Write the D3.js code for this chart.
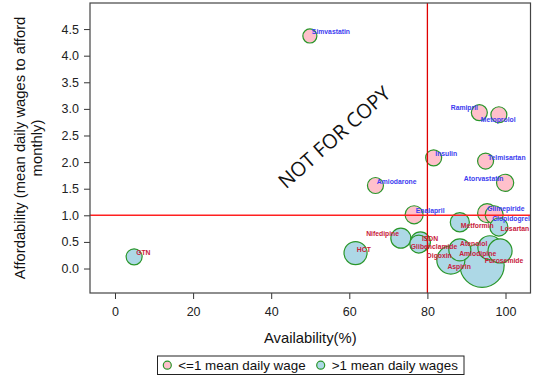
<!DOCTYPE html>
<html>
<head>
<meta charset="utf-8">
<script src="https://cdn.jsdelivr.net/npm/d3@7"></script>
<style>
  html, body { margin: 0; padding: 0; background: #fff; }
  svg { display: block; }
</style>
</head>
<body>
<svg id="chart" width="540" height="383"></svg>
<script>
// ---- data ----
const drugs = ["Simvastatin","Ramipril","Metoprolol","Insulin","Telmisartan","Atorvastatin","Amiodarone","Enalapril","Glimepiride","Clopidogrel",
               "GTN","HCT","Nifedipine","ISDN","Glibenclamide","Metformin","Losartan","Atenolol","Digoxin","Aspirin","Amlodipine","Furosemide"];
const availability = [49.9,93.3,98.3,81.6,94.9,99.9,66.7,76.6,95.3,97.1,
                      4.9,61.6,73.2,78.2,77.8,88.3,98.3,88.3,86.0,94.0,96.0,98.6];
const affordability = [4.37,2.93,2.89,2.08,2.02,1.61,1.56,1.01,1.04,1.01,
                       0.22,0.29,0.57,0.50,0.46,0.87,0.78,0.35,0.16,0.06,0.39,0.33];
const group = ["le1","le1","le1","le1","le1","le1","le1","le1","le1","le1",
               "gt1","gt1","gt1","gt1","gt1","gt1","gt1","gt1","gt1","gt1","gt1","gt1"];
const bubbleSize = [1.0,1.3,1.3,1.3,1.3,1.5,1.3,1.65,1.85,1.65,
                    1.3,2.7,2.04,2.04,1.65,1.85,1.65,2.47,4.0,9.9,2.94,2.94];
const xTicks = [0,20,40,60,80,100];
const yTicks = [0,0.5,1,1.5,2,2.5,3,3.5,4,4.5];
const legendLabels = ["<=1 mean daily wage", ">1 mean daily wages"];
const refX = 80, refY = 1;

// label offsets (px) relative to bubble centre
const labelDx = [2,-28.6,-18,1.6,2.3,-41.3,1.4,1.7,0,-2,
                 2,1.3,-34.7,1.5,-8,1,1.7,0.3,-24,-34.7,-30.7,-15.3];
const labelDy = [-4,-4.7,4.6,-4,-4,-4,-4,-4.3,-4.6,3.7,
                 -4.7,-3.3,-4.3,-3.7,2,3.7,1.7,-6.7,-5,1.2,6,10];

const points = drugs.map((d,i)=>({name:d, x:availability[i], y:affordability[i], g:group[i], s:bubbleSize[i], dx:labelDx[i], dy:labelDy[i]}));

// ---- layout ----
const svg = d3.select("#chart");
const L = 90, R = 530.5, T = 3, B = 293;
const x = d3.scaleLinear().domain([-6.4,106.4]).range([L,R]);
const y = d3.scaleLinear().domain([-0.46,4.99]).range([B,T]);
const r = d3.scaleSqrt().domain([0,10]).range([0,22.2]);

const fillC = {le1:"#ffc0cb", gt1:"#add8e6"};
const labelC = {le1:"#3c3cf0", gt1:"#c8203c"};
const strokeC = "#2a962a";
const font = "Arial, 'Liberation Sans', Helvetica, sans-serif";

// axes
const xAxis = svg.append("g").attr("transform",`translate(0,${B})`)
  .call(d3.axisBottom(x).tickValues(xTicks).tickSize(6).tickPadding(8).tickFormat(d3.format("d")));
const yAxis = svg.append("g").attr("transform",`translate(${L},0)`)
  .call(d3.axisLeft(y).tickValues(yTicks).tickSize(6).tickPadding(5).tickFormat(d3.format(".1f")));
[xAxis,yAxis].forEach(a=>{
  a.select(".domain").remove();
  a.selectAll("line").attr("stroke","#333");
  a.selectAll("text").attr("font-family",font).attr("font-size","12.5px").attr("fill","#222");
});

// watermark
svg.append("text").attr("transform","translate(334,137) rotate(-41.5)")
  .attr("text-anchor","middle").attr("dominant-baseline","central")
  .attr("font-family","'Open Sans', sans-serif").attr("font-size","20px").attr("fill","#111")
  .text("NOT FOR COPY");

// bubbles
const sorted = points.slice().sort((a,b)=>b.s-a.s);
svg.append("g").selectAll("circle").data(sorted).join("circle")
  .attr("cx",d=>x(d.x)).attr("cy",d=>y(d.y)).attr("r",d=>r(d.s))
  .attr("fill",d=>fillC[d.g]).attr("stroke",strokeC).attr("stroke-width",1.2);

// reference lines (drawn over bubbles)
svg.append("line").attr("x1",x(refX)).attr("x2",x(refX)).attr("y1",T).attr("y2",B)
  .attr("stroke","#e00000").attr("stroke-width",1.3);
svg.append("line").attr("x1",L).attr("x2",R).attr("y1",y(refY)).attr("y2",y(refY))
  .attr("stroke","#ff2020").attr("stroke-width",1.5);

// labels
svg.append("g").selectAll("text").data(points).join("text")
  .attr("x",d=>x(d.x)+d.dx).attr("y",d=>y(d.y)+d.dy)
  .attr("dominant-baseline","central")
  .attr("font-family",font).attr("font-size","6.8px").attr("font-weight","bold")
  .attr("fill",d=>labelC[d.g]).text(d=>d.name);

// frame
svg.append("rect").attr("x",L).attr("y",T).attr("width",R-L).attr("height",B-T)
  .attr("fill","none").attr("stroke","#444").attr("stroke-width",1.2);

// axis titles
svg.append("text").attr("x",(L+R)/2).attr("y",343).attr("text-anchor","middle")
  .attr("font-family",font).attr("font-size","14.8px").attr("fill","#111").text("Availability(%)");
const yt = svg.append("text").attr("transform","translate(24.5,148) rotate(-90)")
  .attr("text-anchor","middle").attr("font-family",font).attr("font-size","14.8px").attr("fill","#111");
yt.append("tspan").attr("x",0).attr("dy",0).text("Affordability (mean daily wages to afford");
yt.append("tspan").attr("x",0).attr("dy",17).text("monthly)");

// legend
const lg = svg.append("g");
lg.append("rect").attr("x",157.5).attr("y",356).attr("width",306.5).attr("height",18.5)
  .attr("fill","#fff").attr("stroke","#222").attr("stroke-width",1);
const legX = [167.3, 320.7];
["le1","gt1"].forEach((g,i)=>{
  lg.append("circle").attr("cx",legX[i]).attr("cy",365.2).attr("r",4)
    .attr("fill",fillC[g]).attr("stroke",strokeC).attr("stroke-width",1.2);
  lg.append("text").attr("x",legX[i]+11).attr("y",370)
    .attr("font-family",font).attr("font-size","13.4px").attr("fill","#111").text(legendLabels[i]);
});
</script>
</body>
</html>
